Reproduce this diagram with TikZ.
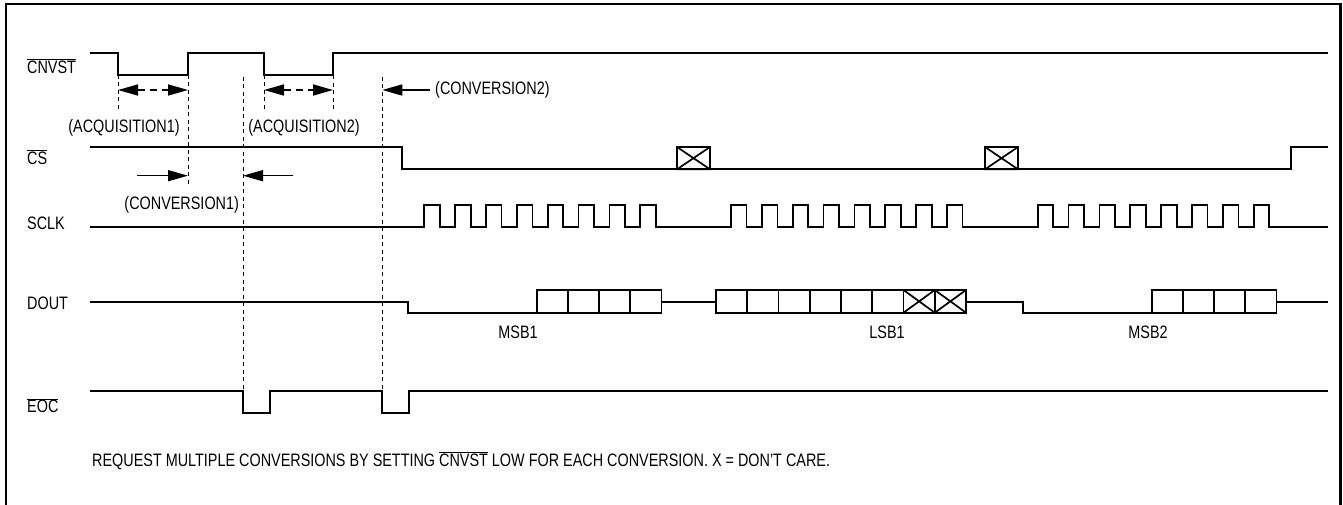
\documentclass[tikz,border=0pt]{standalone}
\usepackage{fontspec}
\setmainfont[FakeStretch=0.8]{Liberation Sans}
\usetikzlibrary{arrows.meta}
\newcommand\ovl[1]{$\overline{\mbox{#1}}$}
\begin{document}
\begin{tikzpicture}[x=1pt,y=-1pt,font=\fontsize{18}{20}\selectfont,inner sep=0pt,
	sig/.style={line width=1.7pt,line join=miter},
	guide/.style={line width=0.9pt,dash pattern=on 4pt off 3.5pt},
	acq/.style={line width=1.6pt,dash pattern=on 7pt off 5pt,{Triangle[length=20pt,width=11pt]}-{Triangle[length=20pt,width=11pt]}},
	conv/.style={line width=1.6pt,-{Triangle[length=20pt,width=11pt]}},
	signame/.style={anchor=base west}]
	\useasboundingbox (0,0) rectangle (1343,505);
	\draw[line width=2.2pt] (6,505)--(6,4)--(1340.5,4)--(1340.5,505);
	%%%
	\path (27,73.3) node[signame] (cnvst) {\ovl{CNVST}};
	\path (27,164.3) node[signame] (cs) {\ovl{CS}};
	\path (27,229.7) node[signame] (sclk) {SCLK};
	\path (27,309) node[signame] (dout) {DOUT};
	\path (27,412.7) node[signame] (eoc) {\ovl{EOC}};
	%%%
	\draw[sig] (90,53)--(118,53)--(118,75)--(188,75)--(188,53)--(264,53)--(264,75)--(333,75)--(333,53)--(1328,53);
	\draw[sig] (90,147)--(401.7,147)--(401.7,169.3)--(1291,169.3)--(1291,147)--(1328,147);
	\foreach \x in {677,985}
		\draw[sig] (\x,147) rectangle ++(33,22.3) (\x,147)--++(33,22.3) (\x,169.3)--++(33,-22.3);
	\draw[sig] (90,227) \foreach \g in {424.3,731,1037.7}{\foreach \k in {0,...,7}{--({\g+30.85*\k},227)--++(0,-22)--++(15.6,0)--++(0,22)}}--(1328,227);
	\draw[sig] (90,301.7)--(408.3,301.7)--(408.3,312.7)--(536.7,312.7);
	\draw[sig] (661.5,301.7)--(716,301.7);
	\draw[sig] (966,301.7)--(1022.7,301.7)--(1022.7,312.7)--(1151.7,312.7);
	\draw[sig] (1276.5,301.7)--(1328,301.7);
	\foreach \x in {536.7,1151.7}
		\foreach \k in {0,...,3}
			\draw[sig] ({\x+31.2*\k},290) rectangle ++(31.2,22.7);
	\foreach \k in {0,...,7}
		\draw[sig] ({716+31.25*\k},290) rectangle ++(31.25,22.7);
	\foreach \k in {6,7}
		\draw[sig] ({716+31.25*\k},290)--++(31.25,22.7) ({716+31.25*\k},312.7)--++(31.25,-22.7);
	\draw[sig] (90,390.7)--(243,390.7)--(243,412.7)--(270,412.7)--(270,390.7)--(382.3,390.7)--(382.3,412.7)--(409.3,412.7)--(409.3,390.7)--(1328,390.7);
	%%%
	\draw[guide] (118,75)--(118,110) (264,75)--(264,110) (333,53)--(333,110);
	\draw[guide] (188,75)--(188,187);
	\draw[guide] (243,77)--(243,390.7) (382.3,77)--(382.3,390.7);
	%%%
	\path (118,90) coordinate (acqa1) (188,90) coordinate (acqa2);
	\path (264,90) coordinate (acqb1) (333,90) coordinate (acqb2);
	\path (188,175.7) coordinate (cona1) (243,175.7) coordinate (cona2) (382.3,90) coordinate (conb1);
	\draw[acq] (acqa1)--(acqa2);
	\draw[acq] (acqb1)--(acqb2);
	\draw[conv] (cona1)++(-51,0)--(cona1);
	\draw[conv] (cona2)++(50,0)--(cona2);
	\draw[conv] (conb1)++(48,0)--(conb1);
	%%%
	\path (124,133) node[anchor=base] (acqalabel) {(ACQUISITION1)};
	\path (304,133) node[anchor=base] (acqblabel) {(ACQUISITION2)};
	\path (181.7,210) node[anchor=base] (conalabel) {(CONVERSION1)};
	\path (435,95) node[anchor=base west] (conblabel) {(CONVERSION2)};
	\path (518,338) node[anchor=base] (msba) {MSB1};
	\path (887,338) node[anchor=base] (lsba) {LSB1};
	\path (1148,338) node[anchor=base] (msbb) {MSB2};
	\path (92,466) node[anchor=base west] (note) {REQUEST MULTIPLE CONVERSIONS BY SETTING \ovl{CNVST} LOW FOR EACH CONVERSION. X = DON\char39T CARE.};
\end{tikzpicture}
\end{document}
